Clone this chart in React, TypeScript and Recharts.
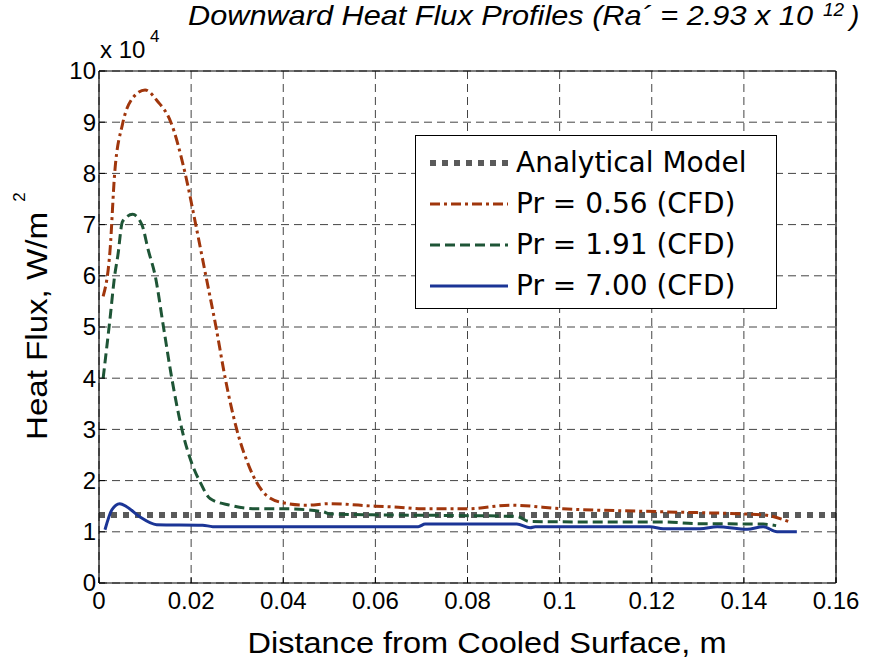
import React from 'react';
import { LineChart, Line, XAxis, YAxis, CartesianGrid } from 'recharts';

// axis ticks (x in m, y in units of 10^4 W/m^2)
const X_TICKS = [0, 0.02, 0.04, 0.06, 0.08, 0.1, 0.12, 0.14, 0.16];
const Y_TICKS = [0, 1, 2, 3, 4, 5, 6, 7, 8, 9, 10];

const SERIES_NAMES = ['Analytical Model', 'Pr = 0.56 (CFD)', 'Pr = 1.91 (CFD)', 'Pr = 7.00 (CFD)'];

const ANALYTICAL_X = [0, 0.16];
const ANALYTICAL_Y = [1.33, 1.33];

const PR056_X = [0.0009, 0.0024, 0.0034, 0.0051, 0.0073, 0.0100, 0.0127, 0.0156, 0.0187, 0.0210, 0.0232, 0.0254, 0.0274, 0.0299, 0.0328, 0.0356, 0.0393, 0.0451, 0.0501, 0.0600, 0.0650, 0.0700, 0.0800, 0.0892, 0.1007, 0.1227, 0.1442, 0.1500];
const PR056_Y = [5.6, 6.5, 8.0, 8.96, 9.47, 9.63, 9.41, 9.0, 8.0, 7.0, 6.0, 5.0, 4.0, 3.0, 2.23, 1.78, 1.58, 1.52, 1.55, 1.5, 1.48, 1.45, 1.45, 1.52, 1.45, 1.39, 1.33, 1.19];

const PR191_X = [0.0009, 0.0024, 0.0034, 0.0041, 0.0051, 0.0073, 0.0093, 0.0107, 0.0122, 0.0140, 0.0158, 0.0180, 0.0203, 0.0219, 0.0241, 0.0284, 0.0342, 0.0399, 0.0487, 0.0501, 0.0610, 0.0750, 0.0907, 0.0935, 0.1148, 0.1227, 0.1296, 0.1442, 0.1470];
const PR191_Y = [4.0, 5.17, 6.0, 6.4, 7.06, 7.2, 7.0, 6.5, 6.0, 5.0, 4.0, 3.0, 2.3, 1.98, 1.65, 1.52, 1.45, 1.45, 1.39, 1.35, 1.33, 1.32, 1.3, 1.2, 1.19, 1.19, 1.16, 1.15, 1.12];

const PR700_X = [0.0013, 0.0028, 0.0045, 0.0060, 0.0089, 0.0125, 0.0225, 0.0247, 0.0693, 0.0708, 0.0907, 0.0936, 0.0947, 0.1196, 0.1225, 0.1305, 0.1342, 0.1407, 0.1442, 0.1472, 0.1515];
const PR700_Y = [1.04, 1.43, 1.55, 1.49, 1.29, 1.14, 1.13, 1.10, 1.10, 1.15, 1.15, 1.08, 1.10, 1.10, 1.06, 1.06, 1.10, 1.05, 1.10, 1.0, 1.0];

const zip = (xs: number[], ys: number[]) => xs.map((x, i) => ({ x, y: ys[i] }));

const SERIES = [
  { name: SERIES_NAMES[0], data: zip(ANALYTICAL_X, ANALYTICAL_Y), color: '#5a5a5a', dash: '6 6', width: 6, type: 'linear' },
  { name: SERIES_NAMES[1], data: zip(PR056_X, PR056_Y), color: '#a0360c', dash: '10 4 3 4', width: 3, type: 'monotone' },
  { name: SERIES_NAMES[2], data: zip(PR191_X, PR191_Y), color: '#1e5536', dash: '10 5', width: 3, type: 'monotone' },
  { name: SERIES_NAMES[3], data: zip(PR700_X, PR700_Y), color: '#1b3596', dash: undefined, width: 3, type: 'monotone' },
];

const FONT = '"Liberation Sans", Arial, sans-serif';

// ticks point inward like the original plot
const BottomTick = (props: any) => {
  const { x, y, payload } = props;
  return (
    <g>
      <line x1={x} y1={y} x2={x} y2={y - 6} stroke="#000" />
      <text x={x} y={y + 26} textAnchor="middle" fontSize={24} fontFamily={FONT} fill="#000">{String(payload.value)}</text>
    </g>
  );
};

const LeftTick = (props: any) => {
  const { x, y, payload } = props;
  return (
    <g>
      <line x1={x} y1={y} x2={x + 6} y2={y} stroke="#000" />
      <text x={x - 3} y={y} dy="0.35em" textAnchor="end" fontSize={24} fontFamily={FONT} fill="#000">{String(payload.value)}</text>
    </g>
  );
};

const TopTick = (props: any) => <line x1={props.x} y1={props.y} x2={props.x} y2={props.y + 6} stroke="#000" />;
const RightTick = (props: any) => <line x1={props.x} y1={props.y} x2={props.x - 6} y2={props.y} stroke="#000" />;

const axisLine = { stroke: '#000', strokeWidth: 1.2 };

const LegendBox = () => (
  <div style={{
    position: 'absolute', left: 415, top: 135, width: 362, height: 174,
    border: '1px solid #000', background: '#fff', boxSizing: 'border-box', paddingTop: 6,
  }}>
    {SERIES.map(s => (
      <div key={s.name} style={{ display: 'flex', alignItems: 'center', height: 41 }}>
        <svg width={100} height={20} style={{ flex: 'none' }}>
          <line x1={14} y1={10} x2={92} y2={10} stroke={s.color} strokeWidth={s.width} strokeDasharray={s.dash} />
        </svg>
        <span style={{ fontFamily: '"DejaVu Sans", sans-serif', fontSize: 28, color: '#000', whiteSpace: 'nowrap' }}>{s.name}</span>
      </div>
    ))}
  </div>
);

export default function App() {
  return (
    <div style={{ position: 'absolute', left: 0, top: 0, width: 870, height: 660, background: '#fff' }}>
      <LineChart width={870} height={660} margin={{ top: 61, right: 24, bottom: 47, left: 59 }}>
        <CartesianGrid stroke="#444" strokeDasharray="8 5" />
        <XAxis dataKey="x" type="number" domain={[0, 0.16]} ticks={X_TICKS} height={30}
          tick={<BottomTick />} tickLine={false} tickSize={0} tickMargin={0} axisLine={axisLine} allowDataOverflow />
        <XAxis xAxisId="top" orientation="top" type="number" domain={[0, 0.16]} ticks={X_TICKS} height={10}
          tick={<TopTick />} tickLine={false} tickSize={0} tickMargin={0} axisLine={axisLine} />
        <YAxis type="number" domain={[0, 10]} ticks={Y_TICKS} width={40}
          tick={<LeftTick />} tickLine={false} tickSize={0} tickMargin={0} axisLine={axisLine} />
        <YAxis yAxisId="right" orientation="right" type="number" domain={[0, 10]} ticks={Y_TICKS} width={10}
          tick={<RightTick />} tickLine={false} tickSize={0} tickMargin={0} axisLine={axisLine} />
        {SERIES.map(s => (
          <Line key={s.name} data={s.data} dataKey="y" name={s.name} type={s.type as any}
            stroke={s.color} strokeWidth={s.width} strokeDasharray={s.dash}
            dot={false} activeDot={false} isAnimationActive={false} />
        ))}
      </LineChart>

      <svg width={870} height={660} style={{ position: 'absolute', left: 0, top: 0, pointerEvents: 'none' }}>
        <g fontFamily={FONT} fill="#000">
          <text x={188} y={25} fontSize={28} fontStyle="italic" textLength={625} lengthAdjust="spacingAndGlyphs">Downward Heat Flux Profiles (Ra´ = 2.93 x 10</text>
          <text x={823} y={16} fontSize={19} fontStyle="italic">12</text>
          <text x={850} y={25} fontSize={28} fontStyle="italic">)</text>
          <text x={100} y={58} fontSize={24}>x 10</text>
          <text x={150} y={42} fontSize={17}>4</text>
          <text x={487} y={653} fontSize={30} textAnchor="middle" textLength={479} lengthAdjust="spacingAndGlyphs">Distance from Cooled Surface, m</text>
          <text transform="translate(47,326) rotate(-90)" fontSize={30} textAnchor="middle" textLength={228} lengthAdjust="spacingAndGlyphs">Heat Flux,  W/m</text>
          <text transform="translate(25,197) rotate(-90)" fontSize={17} textAnchor="middle">2</text>
        </g>
      </svg>

      <LegendBox />
    </div>
  );
}
